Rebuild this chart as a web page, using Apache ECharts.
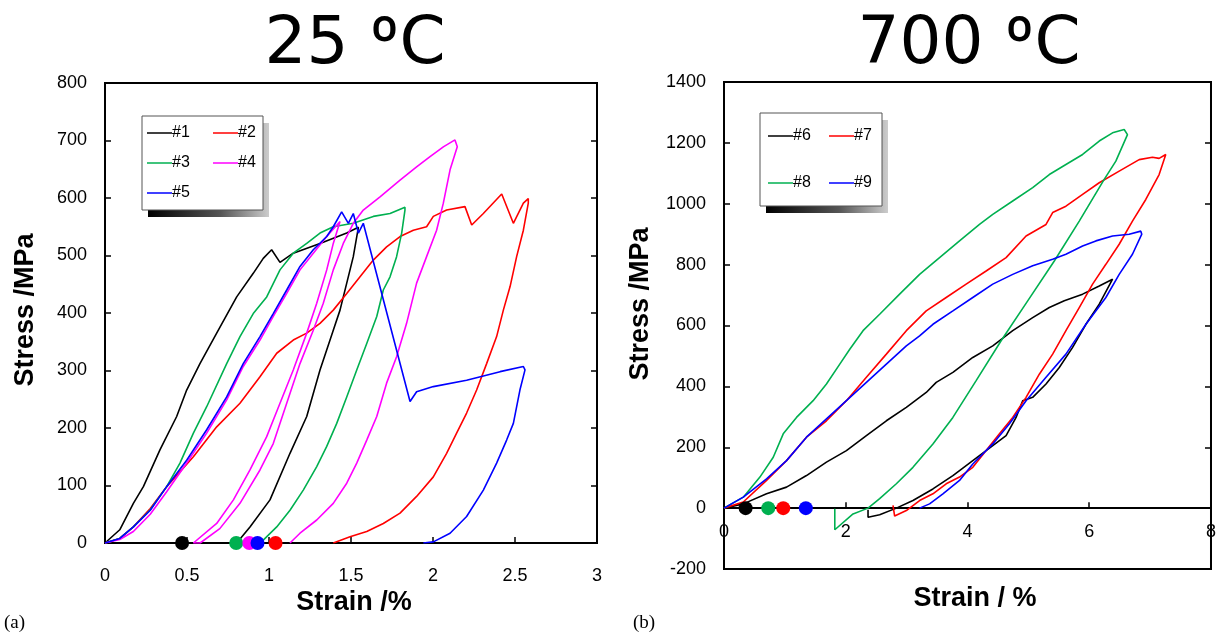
<!DOCTYPE html>
<html>
<head>
<meta charset="utf-8">
<script src="https://cdn.jsdelivr.net/npm/echarts@6/dist/echarts.min.js"></script>
<style>html,body{margin:0;padding:0;background:#fff;}#c{width:1219px;height:637px;}</style>
</head>
<body>
<div id="c"></div>
<script>
// ---------- DATA (25 ºC) ----------
const s1Strain = [0,0.09,0.173,0.234,0.335,0.437,0.498,0.579,0.681,0.803,0.904,0.965,1.016,1.067,1.148,1.311,1.474,1.545,1.514,1.474,1.433,1.392,1.311,1.230,1.128,1.006,0.884,0.803];
const s1Stress = [0,23,69,98,162,220,266,312,365,428,469,495,510,488,504,521,539,549,498,452,405,370,301,220,156,75,28,0];

const s2Strain = [0,0.09,0.173,0.276,0.376,0.539,0.681,0.823,0.945,1.047,1.148,1.230,1.311,1.392,1.474,1.555,1.636,1.717,1.799,1.880,1.961,2.002,2.083,2.195,2.236,2.307,2.419,2.490,2.551,2.581,2.581,2.551,2.510,2.470,2.429,2.388,2.327,2.266,2.205,2.144,2.083,2.002,1.900,1.799,1.697,1.596,1.494,1.392];
const s2Stress = [0,8,28,60,98,150,202,243,289,330,353,365,382,405,434,463,492,515,533,544,550,568,579,585,553,573,607,556,591,599,591,544,498,446,405,359,312,266,226,191,156,115,81,52,34,20,11,0];

const s3Strain = [0,0.09,0.173,0.274,0.376,0.457,0.539,0.620,0.742,0.823,0.904,0.986,1.067,1.148,1.230,1.311,1.392,1.514,1.636,1.738,1.829,1.829,1.809,1.778,1.738,1.697,1.657,1.596,1.535,1.474,1.413,1.352,1.291,1.209,1.128,1.047,0.965,0.945];
const s3Stress = [0,8,28,57,98,139,191,237,312,359,399,428,475,504,521,539,550,556,568,573,584,579,539,498,463,440,394,347,301,254,208,168,133,92,57,28,5,0];

const s4Strain = [0,0.09,0.173,0.276,0.376,0.498,0.620,0.742,0.843,0.945,1.026,1.108,1.189,1.270,1.352,1.433,
  1.392,1.352,1.291,1.230,1.148,1.067,0.986,0.884,0.783,0.681,0.539,
  0.580,0.700,0.823,0.945,1.026,1.108,1.189,1.270,1.331,1.392,1.453,1.514,1.575,1.677,1.799,1.900,1.982,2.063,2.134,
  2.148,2.104,2.063,2.022,1.961,1.900,1.839,1.778,1.717,1.657,1.596,1.535,1.474,1.392,1.291,1.189,1.128];
const s4Stress = [0,6,20,50,89,139,191,249,307,353,394,434,475,504,533,559,
  521,475,417,365,301,243,185,127,75,34,0,
  0,25,69,127,173,243,312,370,417,475,521,556,579,602,631,654,672,689,701,
  689,649,591,544,498,452,382,324,278,220,179,139,104,69,40,17,0];

const s5Strain = [0,0.09,0.173,0.276,0.376,0.498,0.620,0.742,0.843,0.945,1.026,1.108,1.189,1.270,1.352,1.392,1.443,1.484,1.514,1.545,1.575,1.860,1.900,2.002,2.205,2.409,2.551,2.561,2.530,2.490,2.449,2.388,2.307,2.205,2.104,2.002,1.941];
const s5Stress = [0,8,28,57,98,144,197,254,312,359,399,440,481,510,533,550,576,556,573,539,556,246,263,272,283,298,307,301,266,208,179,139,92,46,17,2,0];

const leftDotStrain = [0.47, 0.80, 0.88, 0.93, 1.04];
const leftDotKeys   = ['k','g','m','b','r'];

// ---------- DATA (700 ºC) ----------
const s6Strain = [0,0.317,0.699,1.027,1.355,1.683,2.011,2.339,2.667,2.995,3.322,3.486,3.760,4.087,4.415,4.743,5.071,5.344,5.590,5.891,6.164,6.383,6.383,6.164,5.945,5.727,5.508,5.290,5.071,4.907,4.798,4.634,4.415,4.087,3.760,3.432,3.104,2.831,2.557,2.366,2.366];
const s6Stress = [0,14,47,69,107,151,189,238,287,331,380,413,446,495,533,583,626,659,681,703,730,752,747,670,604,528,462,408,364,353,298,238,205,156,107,63,25,0,-22,-30,-5];

const s7Strain = [0,0.317,0.699,1.027,1.355,1.683,2.011,2.339,2.667,2.995,3.322,3.650,3.978,4.306,4.634,4.962,5.290,5.399,5.617,5.891,6.164,6.492,6.820,7.038,7.148,7.257,7.268,7.148,6.929,6.710,6.492,6.273,6.055,5.836,5.617,5.399,5.180,4.962,4.743,4.525,4.306,4.087,3.869,3.650,3.432,3.213,2.995,2.803,2.776];
const s7Stress = [0,20,91,156,233,287,353,430,506,583,648,692,736,779,823,894,932,971,992,1031,1069,1107,1145,1153,1149,1162,1156,1096,1014,943,867,801,736,659,583,506,440,364,298,244,189,134,102,80,47,25,-8,-26,9];

const s8Strain = [0,0.317,0.590,0.809,0.973,1.191,1.464,1.683,1.902,2.066,2.284,2.557,2.885,3.213,3.541,3.869,4.197,4.415,4.743,5.071,5.344,5.617,5.891,6.164,6.383,6.574,6.628,6.437,6.246,5.836,5.426,4.989,4.552,4.142,3.760,3.432,3.104,2.831,2.557,2.366,2.120,1.820,1.820];
const s8Stress = [0,36,102,167,244,298,353,408,473,522,583,637,703,768,823,878,932,965,1009,1053,1096,1129,1162,1206,1233,1244,1227,1140,1080,943,812,681,550,419,298,211,134,80,31,0,-19,-71,-2];

const s9Strain = [0,0.317,0.699,1.027,1.355,1.683,2.011,2.339,2.667,2.995,3.213,3.432,3.760,4.087,4.415,4.743,5.071,5.399,5.617,5.891,6.109,6.383,6.656,6.847,6.863,6.710,6.492,6.273,5.945,5.617,5.290,4.962,4.689,4.415,4.087,3.869,3.596,3.377,3.213];
const s9Stress = [0,36,96,156,233,293,353,413,473,533,566,604,648,692,736,768,796,818,834,861,878,894,900,910,900,834,768,692,604,506,430,353,277,211,145,91,47,14,0];

const rightDotStrain = [0.355, 0.727, 0.973, 1.344];
const rightDotKeys   = ['k','g','r','b'];

const leftNames  = ['#1','#2','#3','#4','#5'];
const rightNames = ['#6','#7','#8','#9'];
const leftTicks  = {min:0, max:3, step:0.5, ymin:0, ymax:800, ystep:100};
const rightTicks = {min:0, max:8, step:2, ymin:-200, ymax:1400, ystep:200};

// ---------- STYLE ----------
const COL = {k:'#000000', r:'#ff0000', g:'#00b050', m:'#ff00ff', b:'#0000ff'};
const leftKeys  = ['k','r','g','m','b'];
const rightKeys = ['k','r','g','b'];
const SANS = '"Liberation Sans", Arial, sans-serif';

const zip = (xs, ys) => xs.map((x, i) => [x, ys[i]]);
const leftData  = [zip(s1Strain,s1Stress), zip(s2Strain,s2Stress), zip(s3Strain,s3Stress), zip(s4Strain,s4Stress), zip(s5Strain,s5Stress)];
const rightData = [zip(s6Strain,s6Stress), zip(s7Strain,s7Stress), zip(s8Strain,s8Stress), zip(s9Strain,s9Stress)];

const chart = echarts.init(document.getElementById('c'), null, {renderer:'canvas'});

const GRID_R = {left:724, top:82, width:488, height:487};
// offset that lifts the right x axis onto the stress = 0 line
const zeroOffset = -GRID_R.height * (0 - rightTicks.ymin) / (rightTicks.ymax - rightTicks.ymin);

function xAx(grid, t, margin, offset) {
  return {gridIndex:grid, type:'value', min:t.min, max:t.max, interval:t.step, offset:offset,
    axisLine:{show:true, onZero:false, lineStyle:{color:'#000', width:2}},
    axisTick:{show:true, inside:true, length:6, lineStyle:{color:'#000', width:1.5}},
    axisLabel:{color:'#000', fontSize:18, fontFamily:SANS, margin:margin, formatter:v => String(v)},
    splitLine:{show:false}};
}
function yAx(grid, t, pos, showLabel) {
  return {gridIndex:grid, type:'value', position:pos, min:t.ymin, max:t.ymax, interval:t.ystep,
    axisLine:{show:true, onZero:false, lineStyle:{color:'#000', width:2}},
    axisTick:{show:true, inside:true, length:6, lineStyle:{color:'#000', width:1.5}},
    axisLabel:{show:showLabel, color:'#000', fontSize:18, fontFamily:SANS, margin:18, formatter:v => String(v)},
    splitLine:{show:false}};
}

const series = [];
leftData.forEach((d, i) => series.push({type:'line', name:leftNames[i], xAxisIndex:0, yAxisIndex:0, data:d,
  showSymbol:false, symbol:'none', lineStyle:{color:COL[leftKeys[i]], width:1.6}, itemStyle:{color:COL[leftKeys[i]]}, z:3, animation:false}));
rightData.forEach((d, i) => series.push({type:'line', name:rightNames[i], xAxisIndex:1, yAxisIndex:2, data:d,
  showSymbol:false, symbol:'none', lineStyle:{color:COL[rightKeys[i]], width:1.6}, itemStyle:{color:COL[rightKeys[i]]}, z:3, animation:false}));
leftDotStrain.forEach((x, i) => series.push({type:'scatter', xAxisIndex:0, yAxisIndex:0, data:[[x,0]], symbolSize:14,
  itemStyle:{color:COL[leftDotKeys[i]], opacity:1}, clip:false, z:5, animation:false}));
rightDotStrain.forEach((x, i) => series.push({type:'scatter', xAxisIndex:1, yAxisIndex:2, data:[[x,0]], symbolSize:14,
  itemStyle:{color:COL[rightDotKeys[i]], opacity:1}, clip:false, z:5, animation:false}));

// legends
function legendGraphics(box, names, keys, cols, rows) {
  const g = [];
  g.push({type:'rect', shape:{x:box.x+6, y:box.y+7, width:box.w, height:box.h}, z:10,
    style:{fill:new echarts.graphic.LinearGradient(0,0,1,0,[{offset:0,color:'#000'},{offset:0.6,color:'#555'},{offset:1,color:'#ccc'}])}});
  g.push({type:'rect', shape:{x:box.x, y:box.y, width:box.w, height:box.h}, z:11,
    style:{fill:'#fff', stroke:'#555', lineWidth:1}});
  names.forEach((n, i) => {
    const c = i % 2, r = Math.floor(i / 2);
    const lx = cols[c], ly = rows[r];
    g.push({type:'line', shape:{x1:lx, y1:ly, x2:lx+25, y2:ly}, z:12, style:{stroke:COL[keys[i]], lineWidth:1.5}});
    g.push({type:'text', x:lx+25, y:ly, z:12, style:{text:n, fill:'#000', font:'16px '+SANS, textAlign:'left', textVerticalAlign:'middle'}});
  });
  return g;
}

const TITLE_RICH = {
  a:{fontFamily:'"DejaVu Sans", sans-serif', fontSize:66, fill:'#000', color:'#000'},
  b:{fontFamily:'Roboto, sans-serif', fontSize:66, fill:'#000', color:'#000'}
};
function titleText(x, num) {
  return {type:'text', x:x, y:46, style:{text:'{a|' + num + ' }{b|º}{a|C}', rich:TITLE_RICH, fill:'#000',
    textAlign:'center', textVerticalAlign:'middle'}};
}

const graphics = [
  titleText(355, '25'),
  titleText(969, '700'),
  {type:'text', x:26, y:310, rotation:Math.PI/2, style:{text:'Stress /MPa', fill:'#000', font:'bold 27px '+SANS, textAlign:'center', textVerticalAlign:'middle'}},
  {type:'text', x:641, y:304, rotation:Math.PI/2, style:{text:'Stress /MPa', fill:'#000', font:'bold 27px '+SANS, textAlign:'center', textVerticalAlign:'middle'}},
  {type:'text', x:354, y:603, style:{text:'Strain /%', fill:'#000', font:'bold 27px '+SANS, textAlign:'center', textVerticalAlign:'middle'}},
  {type:'text', x:975, y:599, style:{text:'Strain / %', fill:'#000', font:'bold 27px '+SANS, textAlign:'center', textVerticalAlign:'middle'}},
  {type:'text', x:4, y:623, style:{text:'(a)', fill:'#000', font:'19px "Liberation Serif", serif', textAlign:'left', textVerticalAlign:'middle'}},
  {type:'text', x:633, y:623, style:{text:'(b)', fill:'#000', font:'19px "Liberation Serif", serif', textAlign:'left', textVerticalAlign:'middle'}}
].concat(
  legendGraphics({x:142, y:116, w:121, h:94}, leftNames, leftKeys, [147, 213], [133, 163, 193]),
  legendGraphics({x:760, y:113, w:122, h:93}, rightNames, rightKeys, [768, 829], [136, 183])
);

chart.setOption({
  animation:false,
  backgroundColor:'#fff',
  grid:[
    {left:105, top:83, width:492, height:460, show:true, borderColor:'#000', borderWidth:2, backgroundColor:'transparent'},
    Object.assign({show:true, borderColor:'#000', borderWidth:2, backgroundColor:'transparent'}, GRID_R)
  ],
  xAxis:[xAx(0, leftTicks, 24, 0), xAx(1, rightTicks, 15, zeroOffset)],
  yAxis:[yAx(0, leftTicks, 'left', true), yAx(0, leftTicks, 'right', false), yAx(1, rightTicks, 'left', true), yAx(1, rightTicks, 'right', false)],
  series:series,
  graphic:graphics
});
</script>
</body>
</html>
